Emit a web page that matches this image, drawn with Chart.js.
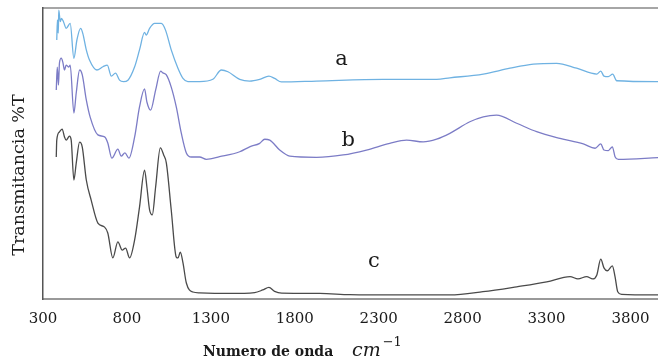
<!DOCTYPE html>
<html>
<head>
<meta charset="utf-8">
<script src="https://cdn.jsdelivr.net/npm/chart.js@4.4.1/dist/chart.umd.min.js"></script>
<style>
html, body { margin: 0; padding: 0; background: #fff; }
</style>
</head>
<body>
<canvas id="ftirChart" width="658" height="360"></canvas>
<script>
// Espectros FTIR (a, b, c) - número de onda vs transmitancia
const ticksOnda = [300, 800, 1300, 1800, 2300, 2800, 3300, 3800];

const ondaA = [382, 386, 391, 394, 403, 410, 422, 438, 462, 484, 502, 524, 537, 558, 577, 621, 657, 683, 707, 732, 756, 780, 806, 846, 875, 905, 915, 935, 965, 1005, 1030, 1064, 1104, 1134, 1163, 1233, 1312, 1363, 1402, 1472, 1531, 1591, 1646, 1680, 1720, 1929, 2326, 2645, 2724, 2923, 3082, 3221, 3360, 3479, 3599, 3623, 3642, 3668, 3694, 3718, 3964];
const transA = [89.0, 95.9, 91.4, 99.3, 95.3, 96.4, 95.3, 93.0, 94.7, 82.7, 89.0, 93.0, 91.3, 85.6, 82.1, 78.7, 79.8, 80.4, 76.6, 77.6, 75.2, 74.7, 75.2, 79.8, 85.6, 91.6, 90.7, 93.0, 94.7, 94.7, 92.4, 85.6, 79.3, 75.8, 74.7, 74.7, 75.5, 78.7, 78.1, 75.5, 74.9, 75.5, 76.6, 75.8, 74.6, 74.9, 75.5, 75.5, 76.0, 77.3, 79.3, 80.7, 81.0, 79.3, 77.3, 78.3, 76.6, 76.4, 77.3, 75.0, 74.7];

const ondaB = [379, 385, 392, 398, 409, 418, 428, 438, 454, 462, 484, 498, 518, 534, 558, 581, 627, 667, 686, 710, 746, 766, 788, 812, 846, 875, 905, 919, 941, 971, 1001, 1014, 1035, 1064, 1094, 1124, 1154, 1184, 1233, 1273, 1352, 1472, 1531, 1591, 1621, 1651, 1710, 1770, 1929, 2088, 2227, 2366, 2466, 2565, 2645, 2724, 2843, 2923, 3002, 3122, 3241, 3380, 3519, 3589, 3623, 3642, 3668, 3692, 3708, 3728, 3964];
const transB = [71.8, 79.7, 73.5, 81.1, 82.8, 81.4, 78.7, 80.4, 79.7, 80.4, 63.9, 70.8, 78.7, 77.0, 68.4, 62.5, 56.4, 55.7, 53.6, 48.4, 51.5, 49.1, 50.2, 48.4, 55.7, 66.0, 72.2, 67.7, 64.9, 71.8, 78.3, 77.7, 77.0, 72.8, 66.0, 57.0, 50.2, 48.8, 48.8, 48.0, 48.9, 50.6, 52.3, 53.5, 54.9, 54.6, 51.2, 49.1, 48.7, 49.5, 51.2, 53.5, 54.6, 54.0, 54.9, 56.9, 60.9, 62.6, 63.2, 60.4, 57.5, 55.2, 53.3, 51.8, 53.3, 51.2, 51.0, 52.3, 48.9, 48.0, 48.6];

const ondaC = [379, 382, 398, 414, 428, 438, 458, 468, 484, 498, 518, 534, 558, 587, 627, 667, 686, 716, 746, 772, 792, 816, 846, 875, 905, 919, 935, 951, 971, 999, 1019, 1035, 1064, 1094, 1104, 1118, 1134, 1154, 1193, 1233, 1412, 1561, 1609, 1646, 1680, 1722, 1949, 2128, 2426, 2724, 2921, 3122, 3301, 3440, 3487, 3539, 3575, 3599, 3623, 3642, 3662, 3692, 3708, 3724, 3748, 3964];
const transC = [48.8, 54.6, 57.4, 58.4, 55.7, 54.6, 56.0, 54.6, 40.9, 46.7, 53.9, 52.2, 40.9, 34.0, 26.1, 24.7, 22.7, 14.1, 19.6, 16.8, 17.5, 14.1, 20.3, 31.6, 44.3, 38.5, 30.6, 28.9, 38.5, 51.9, 49.5, 46.7, 30.6, 14.4, 14.1, 16.1, 12.4, 5.5, 2.4, 2.1, 1.9, 2.2, 3.1, 4.0, 2.6, 2.0, 1.9, 1.5, 1.4, 1.4, 2.5, 4.2, 5.9, 7.7, 6.9, 7.7, 6.9, 8.2, 13.7, 10.7, 9.7, 11.4, 7.7, 2.5, 1.6, 1.4];

// Letras que identifican cada espectro
const letras = ['a', 'b', 'c'];
const letrasOnda = [2078, 2118, 2271];
const letrasTrans = [82.4, 54.6, 12.8];

const puntos = (xs, ys) => xs.map((x, i) => ({ x: x, y: ys[i] }));

const serif = 'DejaVu Serif';

const textosPlugin = {
    id: 'textos',
    afterDraw(chart) {
        const ctx = chart.ctx;
        const sx = chart.scales.x;
        const sy = chart.scales.y;
        ctx.save();
        ctx.fillStyle = '#1a1a1a';

        // letras a, b, c
        ctx.font = '21px "' + serif + '"';
        ctx.textAlign = 'center';
        ctx.textBaseline = 'middle';
        letras.forEach((t, i) => {
            ctx.fillText(t, sx.getPixelForValue(letrasOnda[i]), sy.getPixelForValue(letrasTrans[i]));
        });

        // título eje x
        ctx.textAlign = 'left';
        ctx.textBaseline = 'alphabetic';
        ctx.font = 'bold 14px "' + serif + '"';
        ctx.fillText('Numero de onda', 203, 356);
        ctx.font = 'italic 19px "' + serif + '"';
        ctx.fillText('cm', 352, 356);
        const w = ctx.measureText('cm').width;
        ctx.font = '13px "' + serif + '"';
        ctx.fillText('\u22121', 352 + w + 2, 346);

        // título eje y
        ctx.translate(19, 175);
        ctx.rotate(-Math.PI / 2);
        ctx.textAlign = 'center';
        ctx.textBaseline = 'middle';
        ctx.font = '17.5px "' + serif + '"';
        ctx.fillText('Transmitancia %T', 0, 0);
        ctx.restore();
    }
};

const ctx = document.getElementById('ftirChart').getContext('2d');
new Chart(ctx, {
    type: 'line',
    data: {
        datasets: [
            { label: 'a', data: puntos(ondaA, transA), borderColor: '#6fb2e2' },
            { label: 'b', data: puntos(ondaB, transB), borderColor: '#7c7cc6' },
            { label: 'c', data: puntos(ondaC, transC), borderColor: '#4a4a4a' }
        ]
    },
    options: {
        responsive: false,
        animation: false,
        layout: { padding: { top: 8, left: 0, right: 0, bottom: 0 } },
        elements: {
            point: { radius: 0 },
            line: { borderWidth: 1.3, cubicInterpolationMode: 'monotone' }
        },
        plugins: {
            legend: { display: false },
            tooltip: { enabled: false }
        },
        scales: {
            x: {
                type: 'linear',
                min: 300,
                max: 3964,
                grid: { display: false, drawTicks: false },
                border: { color: '#999', width: 2 },
                ticks: {
                    color: '#1a1a1a',
                    padding: 11,
                    font: { family: serif, size: 15 },
                    callback: (v) => String(v)
                },
                afterBuildTicks: (s) => { s.ticks = ticksOnda.map(v => ({ value: v })); },
                afterFit: (s) => { s.height = 61; s.paddingRight = 0; }
            },
            xTop: {
                type: 'linear',
                position: 'top',
                min: 300,
                max: 3964,
                grid: { display: false, drawTicks: false },
                border: { color: '#a6a6a6', width: 2 },
                ticks: { display: false },
                afterFit: (s) => { s.height = 0; }
            },
            y: {
                min: 0,
                max: 100,
                grid: { display: false, drawTicks: false },
                border: { color: '#555', width: 1.5 },
                ticks: { display: false },
                afterFit: (s) => { s.width = 43; }
            }
        }
    },
    plugins: [textosPlugin]
});
</script>
</body>
</html>
